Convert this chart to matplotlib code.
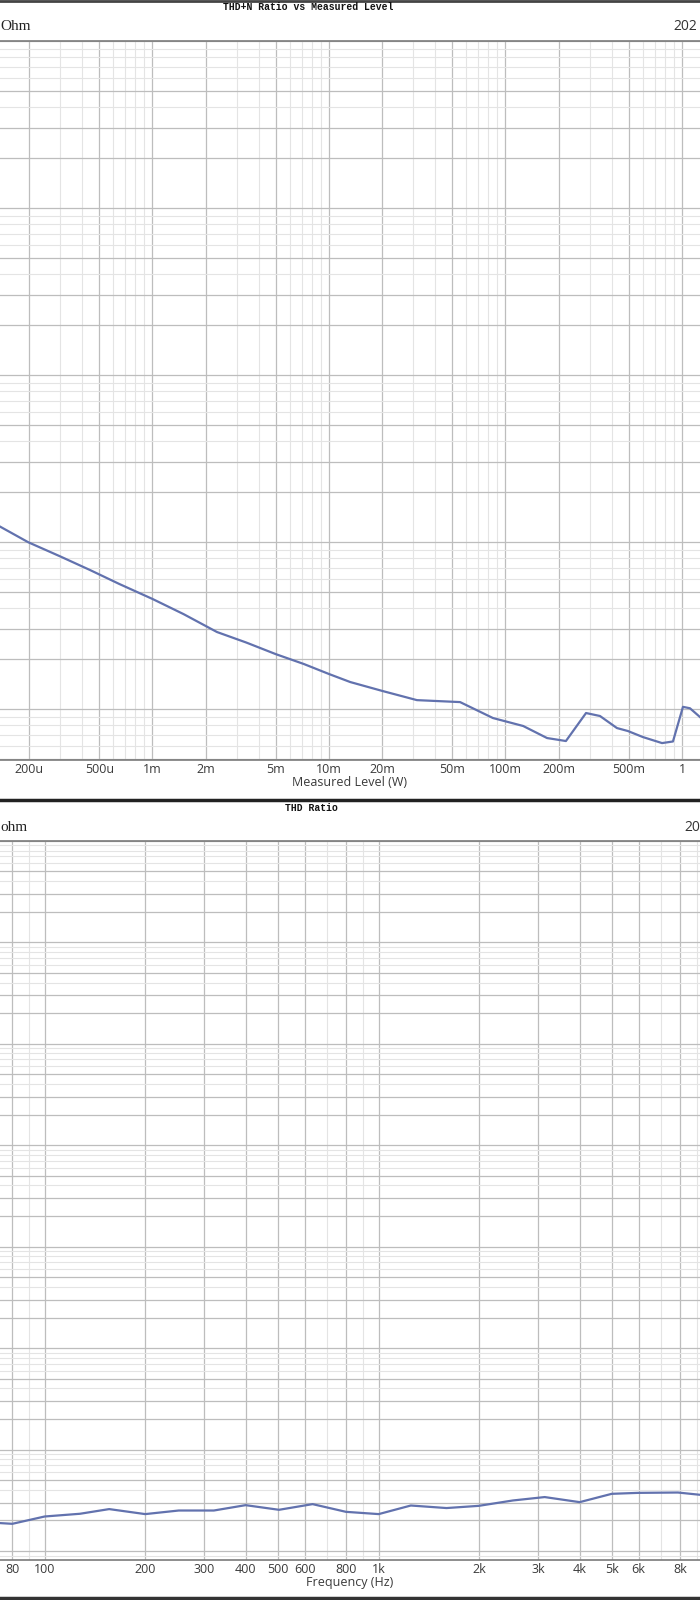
import matplotlib
matplotlib.use("Agg")
import matplotlib.pyplot as plt
from matplotlib.ticker import FixedLocator, NullFormatter, LogLocator
from matplotlib.lines import Line2D
import numpy as np

# ---------------- data ----------------
top_title = "THD+N Ratio vs Measured Level"
top_xlabel = "Measured Level (W)"
top_power = [1.37e-4, 1.98e-4, 3.0e-4, 4.42e-4, 6.5e-4, 1.0e-3, 1.5e-3, 2.32e-3, 3.4e-3,
             5.0e-3, 7.2e-3, 1.0e-2, 1.32e-2, 2.02e-2, 3.15e-2, 5.53e-2, 8.49e-2, 0.126,
             0.172, 0.220, 0.286, 0.343, 0.428, 0.494, 0.601, 0.771, 0.889, 1.013, 1.11, 1.265]
top_thdn = [0.01236, 0.00996, 0.0082, 0.0068, 0.0056, 0.00456, 0.0037, 0.00289, 0.00250,
            0.00213, 0.00186, 0.00162, 0.00145, 0.00128, 0.00113, 0.00110, 0.000883, 0.000791,
            0.00067, 0.000643, 0.000946, 0.000908, 0.000769, 0.000738, 0.000679, 0.000625,
            0.000639, 0.00103, 0.00101, 0.000895]
top_ticks = [2e-4, 5e-4, 1e-3, 2e-3, 5e-3, 1e-2, 2e-2, 5e-2, 0.1, 0.2, 0.5, 1.0]
top_tick_labels = ["200u", "500u", "1m", "2m", "5m", "10m", "20m", "50m", "100m", "200m", "500m", "1"]

bot_title = "THD Ratio"
bot_xlabel = "Frequency (Hz)"
bot_freq = [73.5, 80, 100, 127.6, 156, 200, 252, 321, 399.5, 503, 634, 798, 1000, 1248,
            1596, 1993, 2523, 3140, 3996, 4985, 5979, 7864, 9160]
bot_thd = [1.884e-5, 1.853e-5, 2.188e-5, 2.328e-5, 2.588e-5, 2.31e-5, 2.506e-5, 2.506e-5,
           2.83e-5, 2.547e-5, 2.897e-5, 2.432e-5, 2.31e-5, 2.807e-5, 2.65e-5, 2.786e-5,
           3.148e-5, 3.40e-5, 3.03e-5, 3.66e-5, 3.74e-5, 3.77e-5, 3.58e-5]
bot_ticks = [80, 100, 200, 300, 400, 500, 600, 800, 1000, 2000, 3000, 4000, 5000, 6000, 8000]
bot_tick_labels = ["80", "100", "200", "300", "400", "500", "600", "800", "1k", "2k", "3k",
                   "4k", "5k", "6k", "8k"]
bot_minor = [90, 700, 900, 7000, 9000]

# ---------------- style ----------------
W, H = 700, 1600
fig = plt.figure(figsize=(7, 16), dpi=100)
fig.patch.set_facecolor("white")

LINE = "#6272ae"
MAJ = "#bdbdbd"
MIN = "#e4e4e4"
SPINE = "#7a7a7a"
TXT = "#3a3a3a"
tick_font = dict(family=["Open Sans", "DejaVu Sans"], size=9)


def fx(px):
    return px / W


def fy(py):
    return 1 - py / H


def style_axes(ax):
    for s in ("left", "right"):
        ax.spines[s].set_visible(False)
    for s in ("top", "bottom"):
        ax.spines[s].set_color(SPINE)
        ax.spines[s].set_linewidth(1.2)
    ax.set_yscale("log")
    ax.yaxis.set_major_locator(LogLocator(base=10, subs=(1.0, 2.0, 3.0, 5.0), numticks=30))
    ax.yaxis.set_minor_locator(LogLocator(base=10, subs=(4.0, 6.0, 7.0, 8.0, 9.0), numticks=30))
    ax.yaxis.set_major_formatter(NullFormatter())
    ax.yaxis.set_minor_formatter(NullFormatter())
    ax.tick_params(axis="both", which="both", length=0)
    ax.tick_params(axis="x", which="major", pad=2, colors=TXT)
    ax.grid(True, which="major", color=MAJ, linewidth=0.9)
    ax.grid(True, which="minor", color=MIN, linewidth=0.8)
    ax.set_axisbelow(True)


# ---------------- top chart ----------------
ax1 = fig.add_axes([0, fy(760), 1, (760 - 41) / H])
ax1.set_xscale("log")
style_axes(ax1)
ax1.set_xlim(1.368e-4, 1.265)
ax1.set_ylim(0.000495, 10)
ax1.xaxis.set_major_locator(FixedLocator(top_ticks))
top_minor = [m * 10.0 ** e for e in range(-4, 1) for m in (3, 4, 6, 7, 8, 9)]
ax1.xaxis.set_minor_locator(FixedLocator(top_minor))
ax1.set_xticklabels(top_tick_labels, fontdict=tick_font)
ax1.xaxis.set_minor_formatter(NullFormatter())
ax1.plot(top_power, top_thdn, color=LINE, linewidth=1.6)
ax1.set_xlabel(top_xlabel, fontdict=tick_font, color=TXT, labelpad=0)

# ---------------- bottom chart ----------------
ax2 = fig.add_axes([0, fy(1560), 1, (1560 - 840.7) / H])
ax2.set_xscale("log")
style_axes(ax2)
ax2.set_xlim(73.5, 9160)
ax2.set_ylim(100 * 10 ** (-7.0887), 100)
ax2.xaxis.set_major_locator(FixedLocator(bot_ticks))
ax2.xaxis.set_minor_locator(FixedLocator(bot_minor))
ax2.set_xticklabels(bot_tick_labels, fontdict=tick_font)
ax2.xaxis.set_minor_formatter(NullFormatter())
ax2.plot(bot_freq, bot_thd, color=LINE, linewidth=1.6)
ax2.set_xlabel(bot_xlabel, fontdict=tick_font, color=TXT, labelpad=0)

# ---------------- headers / frame ----------------
mono = dict(family=["Liberation Mono", "DejaVu Sans Mono"], size=7, weight="bold", color="#111111")
fig.text(fx(308), fy(7), top_title, ha="center", va="center", **mono)
fig.text(fx(311), fy(808), bot_title, ha="center", va="center", **mono)

serif = dict(family=["Liberation Serif", "DejaVu Serif"], size=11, color="#222222")
fig.text(fx(0), fy(27), "Ohm", ha="left", va="center", **serif)
fig.text(fx(0), fy(828), "ohm", ha="left", va="center", **serif)
sans = dict(family=["Open Sans", "DejaVu Sans"], size=10, color="#333333")
fig.text(fx(673), fy(27), "202", ha="left", va="center", **sans)
fig.text(fx(684), fy(828), "20", ha="left", va="center", **sans)

for y, lw, c in ((0.8, 2.0, "#444444"), (800, 2.5, "#222222"), (1598, 2.5, "#333333")):
    fig.add_artist(Line2D([0, 1], [fy(y), fy(y)], transform=fig.transFigure,
                          color=c, linewidth=lw))

fig.savefig("out.png", dpi=100, facecolor="white")
